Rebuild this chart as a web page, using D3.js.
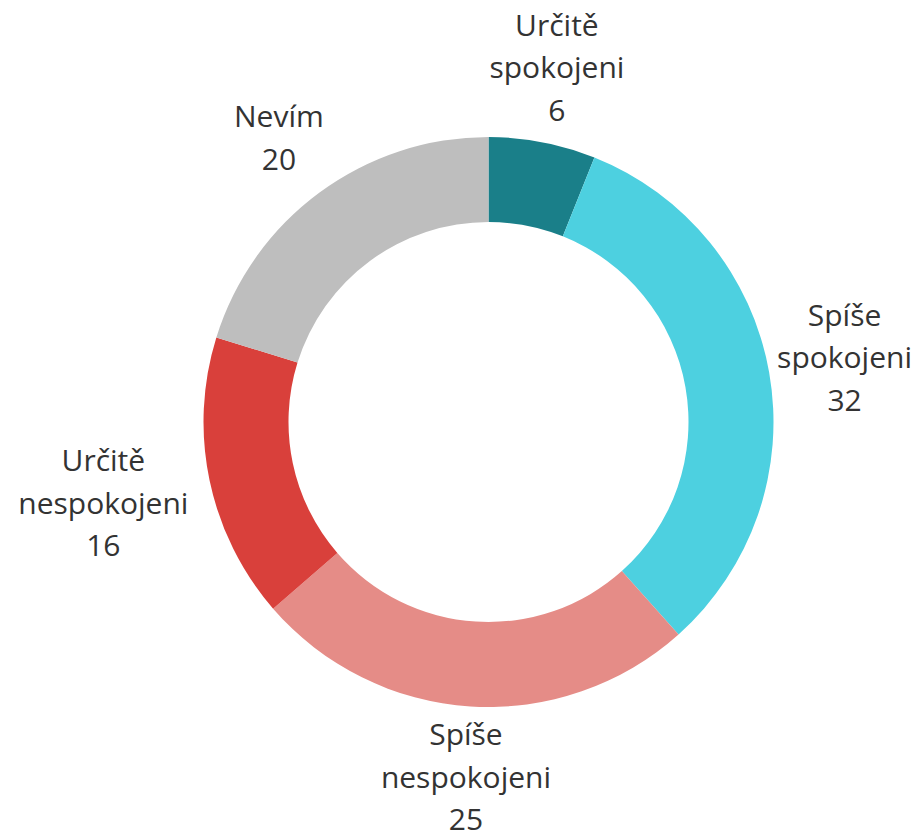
<!DOCTYPE html>
<html><head><meta charset="utf-8">
<script src="https://cdn.jsdelivr.net/npm/d3@7"></script>
<style>html,body{margin:0;padding:0;background:#fff;}</style>
</head><body>
<svg id="chart" width="920" height="834"></svg>
<script>
const categories = [["Určitě","spokojeni"],["Spíše","spokojeni"],["Spíše","nespokojeni"],["Určitě","nespokojeni"],["Nevím"]];
const values = [6, 32, 25, 16, 20];
const colors = ["#1A7F89", "#4DD0E0", "#E58C87", "#D9403B", "#BEBEBE"];

const W = 920, H = 834, cx = 488.5, cy = 422, rOuter = 285, rInner = 200;
const fontSize = 30, lineH = 42.5, labelGap = 16, marginX = 8, marginY = 4;

const svg = d3.select("#chart");
const g = svg.append("g").attr("transform", `translate(${cx},${cy})`);
const data = values.map((v,i)=>({label:categories[i], value:v, color:colors[i]}));
const pie = d3.pie().value(d=>d.value).sort(null);
const arc = d3.arc().innerRadius(rInner).outerRadius(rOuter);
const arcs = pie(data);

g.selectAll("path.slice").data(arcs).join("path")
  .attr("class","slice").attr("d", arc).attr("fill", d=>d.data.color);

const lab = g.selectAll("text.lab").data(arcs).join("text")
  .attr("class","lab")
  .attr("text-anchor","middle")
  .style("font-family","'Open Sans', 'Noto Sans', sans-serif")
  .style("font-size", fontSize+"px")
  .attr("fill","#333333");

lab.each(function(d){
  const t = d3.select(this);
  const lines = d.data.label.concat([String(d.data.value)]);
  const n = lines.length;
  const spans = lines.map(s => t.append("tspan").attr("x",0).text(s));
  const halfW = d3.max(spans, s => s.node().getComputedTextLength()) / 2;
  // visual block: top = first baseline - cap height, bottom = last baseline
  const blockH = (n-1)*lineH + 0.74*fontSize;
  const halfH = blockH / 2;
  const a = (d.startAngle + d.endAngle) / 2;
  const ux = Math.sin(a), uy = -Math.cos(a);
  const target = rOuter + labelGap;
  const dist = (x, y) => {
    const nx = Math.max(x - halfW, Math.min(0, x + halfW));
    const ny = Math.max(y - halfH, Math.min(0, y + halfH));
    return Math.hypot(nx, ny);
  };
  let r = rOuter;
  while (dist(r*ux, r*uy) < target && r < 1000) r += 0.5;
  let x = r*ux, y = r*uy;
  // keep inside the viewport
  x = Math.max(-cx + marginX + halfW, Math.min(W - cx - marginX - halfW, x));
  y = Math.max(-cy + marginY + halfH, Math.min(H - cy - marginY - halfH, y));
  const firstBaseline = y - halfH + 0.74*fontSize;
  spans.forEach((s,i)=> s.attr("x", x).attr("y", firstBaseline + i*lineH));
});
</script>
</body></html>
